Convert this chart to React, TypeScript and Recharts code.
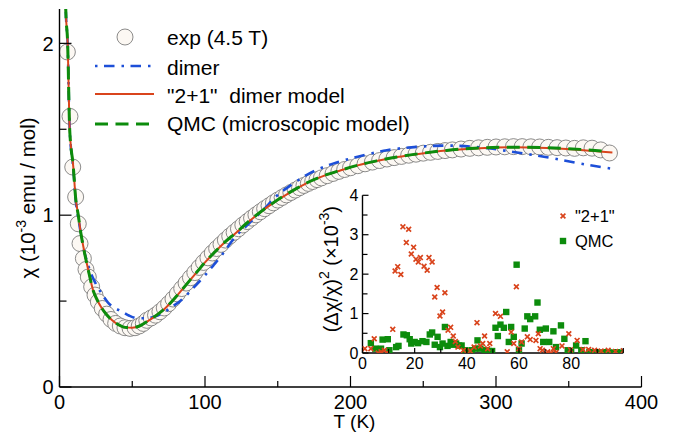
import { ComposedChart, ScatterChart, Scatter, Line, XAxis, YAxis, Legend } from 'recharts';

const FONT = '"Liberation Sans", Arial, Helvetica, sans-serif';
const BLUE = '#1d4fd8';
const RED = '#d9441c';
const GREEN = '#0c8c0c';
const CIRCLE_FILL = '#fcf8f3';

// main panel: chi (10^-3 emu/mol) vs T (K)
const expT = [5.4, 7.2, 9.1, 11.1, 12.9, 14.1, 16.4, 18.2, 19.8, 22.1, 24.4, 26.7, 29.4, 32.4, 35.4, 38.6, 41.8, 45, 48.5, 51.9, 54.8, 57.6,
  60, 63, 66, 69, 72, 75, 78, 81, 84, 87, 90, 93, 96, 99, 102, 105, 108, 111, 114, 117, 120, 123, 126, 129, 132, 135, 138, 141, 144, 147,
  150, 153, 156, 159, 162, 165, 168, 171, 174, 177, 180, 184, 188, 192, 196, 200, 205, 210, 215, 220, 225, 230, 235, 240, 245, 250, 255,
  260, 265, 270, 276, 282, 288, 294, 300, 306, 312, 318, 324, 330, 336, 342, 348, 354, 360, 366, 372, 378];
const expChi = [1.95, 1.575, 1.28, 1.106, 0.95, 0.835, 0.748, 0.684, 0.64, 0.583, 0.535, 0.496, 0.457, 0.424, 0.393, 0.37, 0.355, 0.345, 0.341, 0.345, 0.355, 0.37,
  0.388, 0.402, 0.418, 0.438, 0.46, 0.485, 0.512, 0.542, 0.573, 0.605, 0.636, 0.666, 0.696, 0.725, 0.752, 0.78, 0.806, 0.83, 0.855, 0.878, 0.9, 0.921, 0.943, 0.963, 0.983, 1.002, 1.02, 1.038, 1.055, 1.072,
  1.088, 1.103, 1.118, 1.132, 1.146, 1.16, 1.173, 1.185, 1.196, 1.207, 1.217, 1.23, 1.243, 1.255, 1.266, 1.276, 1.288, 1.299, 1.309, 1.318, 1.327, 1.335, 1.342, 1.349, 1.355, 1.361, 1.366,
  1.371, 1.376, 1.38, 1.385, 1.389, 1.392, 1.395, 1.397, 1.398, 1.399, 1.399, 1.398, 1.397, 1.395, 1.393, 1.391, 1.389, 1.392, 1.39, 1.38, 1.362];

const dimerT = [3.5, 4.3, 5.6, 7, 9.5, 11.1, 13, 16, 20, 24.4, 28.5, 33.5, 38, 42.7, 48, 54, 60, 65.6, 71, 77, 83, 88.5, 94, 100, 106, 111.5,
  119.5, 130, 140, 149, 160, 170, 188, 205, 225, 246, 266, 289, 312, 335, 358, 380];
const dimerChi = [2.7, 2.2, 2.0, 1.5, 1.27, 1.09, 0.98, 0.83, 0.7, 0.61, 0.55, 0.49, 0.46, 0.44, 0.415, 0.4, 0.4, 0.41, 0.43, 0.465, 0.5, 0.545, 0.595, 0.65, 0.71, 0.767,
  0.86, 0.95, 1.03, 1.11, 1.18, 1.235, 1.3, 1.34, 1.378, 1.398, 1.405, 1.395, 1.368, 1.337, 1.3, 1.27];

const twoPlusOneT = [3.5, 4.3, 5.6, 7, 9.5, 11.1, 12.9, 14.5, 16.4, 19.8, 23.2, 26, 29, 32, 36, 40, 45, 50, 55, 61, 67, 72.5, 78, 84, 90, 95, 100,
  107, 114, 121, 129, 137, 145, 154, 163, 172, 182, 193, 205, 218, 232, 248, 266, 289, 312, 335, 358, 380];
const twoPlusOneChi = [2.7, 2.2, 2.0, 1.5, 1.28, 1.1, 1.0, 0.905, 0.816, 0.68, 0.56, 0.505, 0.46, 0.425, 0.39, 0.365, 0.347, 0.345, 0.355, 0.385, 0.42, 0.457, 0.505, 0.564, 0.625, 0.675, 0.725,
  0.787, 0.845, 0.895, 0.955, 1.01, 1.06, 1.11, 1.155, 1.195, 1.23, 1.26, 1.29, 1.315, 1.338, 1.358, 1.376, 1.39, 1.395, 1.391, 1.38, 1.365];

const qmcT = [3.5, 4.3, 5.6, 7, 9.5, 11.1, 12.9, 14.5, 16.4, 19.8, 23.2, 26, 29, 32, 36, 40, 45, 50, 55, 61, 67, 72.5, 78, 84, 90, 95, 100,
  107, 114, 121, 129, 137, 145, 154, 163, 172, 182, 193, 205, 218, 232, 248, 266, 289, 312, 335, 358, 376];
const qmcChi = [2.7, 2.2, 2.0, 1.5, 1.28, 1.1, 1.0, 0.905, 0.815, 0.68, 0.56, 0.505, 0.46, 0.425, 0.39, 0.365, 0.347, 0.345, 0.355, 0.385, 0.42, 0.457, 0.505, 0.564, 0.625, 0.675, 0.726,
  0.788, 0.846, 0.896, 0.956, 1.011, 1.061, 1.111, 1.156, 1.196, 1.231, 1.261, 1.291, 1.316, 1.339, 1.359, 1.377, 1.391, 1.396, 1.393, 1.383, 1.372];

const mainXTicks = [0, 50, 100, 150, 200, 250, 300, 350, 400];
const mainYTicks = [0, 0.5, 1, 1.5, 2];

// inset: (dchi/chi)^2 (x10^-3) vs point index
const redN = [0.9, 3.2, 4.5, 6, 7.1, 8.4, 9.3, 11.6, 12.5, 13.5, 14.7, 15.5, 16.8, 17.7, 18.7, 19.6, 20.5, 21.4, 22.2, 23.6, 24.8, 25.5, 26.7,
  27.7, 28.6, 29.7, 30.7, 31.6, 32.8, 33.8, 34.8, 35.6, 36.6, 38.7, 41.3, 42.8, 43.9, 45.2, 46.1, 46.8, 48, 48.8, 51, 52.9, 55.5, 57, 58, 59,
  60, 61, 63.2, 64.3, 66.5, 67.4, 68.1, 69, 71, 72.3, 73.2, 74.2, 76.5, 79.1, 79.7, 82.3, 84.5, 86.7, 89, 91.5, 94.2, 97, 100];
const redV = [0.11, 0.11, 0.36, 0, 0.03, 0.07, 0, 0.6, 2.08, 2.19, 1.99, 3.2, 2.8, 3.14, 2.51, 2.68, 2.38, 2.31, 2.42, 2.2, 2.1, 2.42, 2.31,
  1.42, 1.66, 0.94, 1.04, 1.53, 0.58, 0.65, 0.43, 0.29, 0.15, 0.07, 0.05, 0.15, 0.77, 0.18, 0.24, 0.43, 0.11, 0.24, 1.0, 0.93, 0.03, 0.53, 0.24, 1.68,
  0.11, 0.28, 0.41, 0.34, 0.32, 0.49, 0.11, 0.07, 0.03, 0, 0.11, 0.01, 0.18, 0.49, 0.08, 0.32, 0.09, 0.09, 0.07, 0.05, 0.07, 0.04, 0.06];

const greenN = [3.2, 4.9, 7.1, 7.7, 9.7, 10.3, 12.9, 13.8, 15.7, 17, 18.1, 18.7, 20, 21.3, 23, 24.5, 25.8, 26.7, 27.7, 28.8, 29.7, 30.7, 31.6,
  32.6, 33.8, 34.8, 35.9, 37, 38, 39.4, 40.6, 41.9, 43.2, 44.1, 45.2, 46.8, 48.4, 49.7, 51, 51.9, 52.9, 54.2, 55.1, 56.1, 57, 58, 59.1, 60, 61,
  62.2, 63.2, 64.3, 66.2, 67.1, 68, 69.3, 70.3, 71.6, 73.2, 74.2, 76.1, 77.4, 78.7, 80, 81.9, 83.9, 85.5, 87, 88.5, 90, 91.5, 93, 94.5, 96, 97.5, 99, 100.5];
const greenV = [0.25, 0.11, 0.11, 0.34, 0.35, 0.07, 0.15, 0.18, 0.47, 0.45, 0.35, 0.24, 0.28, 0.25, 0.3, 0.28, 0.47, 0.52, 0.21, 0.41, 0.15, 0.24, 0.66,
  0.18, 0.28, 0.21, 0.24, 0.19, 0.19, 0.07, 0.03, 0.07, 0.11, 0.32, 0.11, 0.07, 0.05, 0.05, 0.64, 0.43, 0.72, 0.64, 1.04, 0.28, 0.66, 0.41, 2.24, 0.07, 0.24,
  0.62, 0.93, 0.86, 0.93, 1.28, 0.59, 0.28, 0.62, 0.28, 0.55, 0.15, 0.7, 0.36, 0.07, 0.03, 0.19, 0.07, 0.3, 0.02, 0.01, 0.02, 0.01, 0.02, 0.01, 0.01, 0.02, 0.01, 0.01];

const insetXTicks = [0, 10, 20, 30, 40, 50, 60, 70, 80, 90, 100];
const insetYTicks = [0, 0.5, 1, 1.5, 2, 2.5, 3, 3.5, 4];

const toXY = (xs: number[], ys: number[]) => xs.map((x, i) => ({ x, y: ys[i] }));

const expData = toXY(expT, expChi);
const dimerData = toXY(dimerT, dimerChi);
const twoPlusOneData = toXY(twoPlusOneT, twoPlusOneChi);
const qmcData = toXY(qmcT, qmcChi);
const redData = toXY(redN, redV);
const greenData = toXY(greenN, greenV);

type TickOpts = {
  side: 'bottom' | 'top' | 'left' | 'right';
  isMajor: (v: number) => boolean;
  long: number;
  short: number;
  showLabel?: (v: number) => boolean;
  gap?: number;
  fontSize?: number;
};

// inward ticks, drawn by hand so they can point into the plot
function makeTick(o: TickOpts) {
  return (p: any) => {
    const { x, y } = p;
    const v = p.payload.value;
    const len = o.isMajor(v) ? o.long : o.short;
    let x2 = x;
    let y2 = y;
    if (o.side === 'bottom') y2 = y - len;
    else if (o.side === 'top') y2 = y + len;
    else if (o.side === 'left') x2 = x + len;
    else x2 = x - len;
    const label = o.showLabel ? o.showLabel(v) : false;
    return (
      <g>
        <line x1={x} y1={y} x2={x2} y2={y2} stroke="#000" strokeWidth={1.2} />
        {label && o.side === 'bottom' && (
          <text x={x} y={y + (o.gap || 0)} textAnchor="middle" fontSize={o.fontSize} fontFamily={FONT} fill="#000">
            {v}
          </text>
        )}
        {label && o.side === 'left' && (
          <text x={x - (o.gap || 0)} y={y} dy="0.36em" textAnchor="end" fontSize={o.fontSize} fontFamily={FONT} fill="#000">
            {v}
          </text>
        )}
      </g>
    );
  };
}

const isMult = (step: number) => (v: number) => Math.abs(v / step - Math.round(v / step)) < 1e-6;

const mainBottomTick = makeTick({ side: 'bottom', isMajor: isMult(100), long: 11, short: 6, showLabel: isMult(100), gap: 22, fontSize: 20 });
const mainTopTick = makeTick({ side: 'top', isMajor: isMult(100), long: 11, short: 6 });
const mainLeftTick = makeTick({ side: 'left', isMajor: isMult(1), long: 12, short: 7, showLabel: isMult(1), gap: 6, fontSize: 20 });
const mainRightTick = makeTick({ side: 'right', isMajor: isMult(1), long: 12, short: 7 });

const insetBottomTick = makeTick({ side: 'bottom', isMajor: isMult(20), long: 5, short: 4, showLabel: (v) => isMult(20)(v) && v < 100, gap: 16, fontSize: 16 });
const insetTopTick = makeTick({ side: 'top', isMajor: isMult(20), long: 5, short: 4 });
const insetLeftTick = makeTick({ side: 'left', isMajor: isMult(1), long: 6, short: 5, showLabel: isMult(1), gap: 4, fontSize: 16 });
const insetRightTick = makeTick({ side: 'right', isMajor: isMult(1), long: 6, short: 5 });

const MainYLabel = (p: any) => {
  const vb = p.viewBox;
  const cx = vb.x + 35;
  const cy = vb.y + vb.height / 2;
  return (
    <text transform={`translate(${cx},${cy}) rotate(-90)`} textAnchor="middle" fontSize={20.5} fontFamily={FONT} fill="#000">
      χ (10<tspan dy={-9} fontSize={14}>-3</tspan>
      <tspan dy={9}> emu / mol)</tspan>
    </text>
  );
};

const MainXLabel = (p: any) => {
  const vb = p.viewBox;
  return (
    <text x={vb.x + vb.width / 2 + 4} y={vb.y + 41} textAnchor="middle" fontSize={19} fontFamily={FONT} fill="#000">
      T (K)
    </text>
  );
};

const InsetYLabel = (p: any) => {
  const vb = p.viewBox;
  const cx = vb.x + 38;
  const cy = vb.y + vb.height / 2 - 5;
  return (
    <text transform={`translate(${cx},${cy}) rotate(-90)`} textAnchor="middle" fontSize={20} fontFamily={FONT} fill="#000">
      (Δχ/χ)<tspan dy={-9} fontSize={14}>2</tspan>
      <tspan dy={9}> (×10</tspan>
      <tspan dy={-9} fontSize={14}>-3</tspan>
      <tspan dy={9}>)</tspan>
    </text>
  );
};

const ExpCircle = (p: any) => (
  <circle cx={p.cx} cy={p.cy} r={8} fill={CIRCLE_FILL} stroke="#6e6e6e" strokeWidth={0.8} />
);
const RedCross = (p: any) => {
  const { cx, cy } = p;
  const s = 2.4;
  return (
    <path d={`M${cx - s},${cy - s}L${cx + s},${cy + s}M${cx - s},${cy + s}L${cx + s},${cy - s}`} stroke={RED} strokeWidth={1.7} fill="none" />
  );
};
const GreenSquare = (p: any) => <rect x={p.cx - 3.2} y={p.cy - 3.2} width={6.4} height={6.4} fill={GREEN} />;

const MainLegend = () => (
  <svg width={673} height={140} style={{ display: 'block' }} fontFamily={FONT}>
    <circle cx={125} cy={37} r={8} fill={CIRCLE_FILL} stroke="#6e6e6e" strokeWidth={0.8} />
    <text x={167} y={37} dy="0.36em" fontSize={21}>exp (4.5 T)</text>
    <line x1={95} x2={152} y1={66} y2={66} stroke={BLUE} strokeWidth={2.6} strokeDasharray="2.5 6.5 10.5 7" />
    <text x={167} y={67} dy="0.36em" fontSize={21}>dimer</text>
    <line x1={95} x2={154} y1={94} y2={94} stroke={RED} strokeWidth={2} />
    <text x={167} y={95} dy="0.36em" fontSize={21} style={{ whiteSpace: 'pre' }}>{'"2+1"  dimer model'}</text>
    <line x1={95} x2={154} y1={124} y2={124} stroke={GREEN} strokeWidth={3} strokeDasharray="13 7.5" />
    <text x={167} y={123} dy="0.36em" fontSize={21}>QMC (microscopic model)</text>
  </svg>
);

const InsetLegend = () => (
  <svg width={340} height={80} style={{ display: 'block' }} fontFamily={FONT}>
    <RedCross cx={263} cy={36} />
    <text x={275} y={36} dy="0.36em" fontSize={16.5}>"2+1"</text>
    <GreenSquare cx={263} cy={61} />
    <text x={275} y={61} dy="0.36em" fontSize={16.5}>QMC</text>
  </svg>
);

const MAIN_MARGIN = { top: 9, right: 31.5, bottom: 0, left: 0 };
const layer: React.CSSProperties = { position: 'absolute', left: 0, top: 0 };

export default function App() {
  return (
    <div style={{ position: 'absolute', left: 0, top: 0, width: 673, height: 436, background: '#fff' }}>
      {/* bottom layer: the measured points, so the model curves are drawn over them */}
      <div style={layer}>
        <ComposedChart width={673} height={436} margin={MAIN_MARGIN}>
          <XAxis xAxisId="b" type="number" dataKey="x" domain={[0, 400]} height={49} allowDataOverflow tick={false} axisLine={false} tickLine={false} />
          <YAxis yAxisId="l" type="number" dataKey="y" domain={[0, 2.2]} width={59.5} allowDataOverflow tick={false} axisLine={false} tickLine={false} />
          <Scatter xAxisId="b" yAxisId="l" data={expData} shape={ExpCircle} isAnimationActive={false} />
        </ComposedChart>
      </div>

      <div style={layer}>
        <ComposedChart width={673} height={436} margin={MAIN_MARGIN}>
          <XAxis xAxisId="b" type="number" dataKey="x" domain={[0, 400]} ticks={mainXTicks} interval={0} height={49}
            allowDataOverflow tickSize={0} tickMargin={0} tickLine={false} tick={mainBottomTick}
            axisLine={{ stroke: '#000', strokeWidth: 1.4 }} label={MainXLabel} />
          <XAxis xAxisId="t" orientation="top" type="number" dataKey="x" domain={[0, 400]} ticks={mainXTicks} interval={0} height={0}
            allowDataOverflow tickSize={0} tickMargin={0} tickLine={false} tick={mainTopTick}
            axisLine={{ stroke: '#000', strokeWidth: 1.4 }} />
          <YAxis yAxisId="l" type="number" dataKey="y" domain={[0, 2.2]} ticks={mainYTicks} interval={0} width={59.5}
            allowDataOverflow tickSize={0} tickMargin={0} tickLine={false} tick={mainLeftTick}
            axisLine={{ stroke: '#000', strokeWidth: 1.4 }} label={MainYLabel} />
          <YAxis yAxisId="r" orientation="right" type="number" dataKey="y" domain={[0, 2.2]} ticks={mainYTicks} interval={0} width={0}
            allowDataOverflow tickSize={0} tickMargin={0} tickLine={false} tick={mainRightTick}
            axisLine={{ stroke: '#000', strokeWidth: 1.4 }} />
          <Line xAxisId="b" yAxisId="l" data={dimerData} dataKey="y" type="monotone" stroke={BLUE} strokeWidth={2.6}
            strokeDasharray="2.5 6.5 10.5 7" dot={false} activeDot={false} isAnimationActive={false} />
          <Line xAxisId="b" yAxisId="l" data={twoPlusOneData} dataKey="y" type="monotone" stroke={RED} strokeWidth={2}
            dot={false} activeDot={false} isAnimationActive={false} />
          <Line xAxisId="b" yAxisId="l" data={qmcData} dataKey="y" type="monotone" stroke={GREEN} strokeWidth={3}
            strokeDasharray="13 7.5" dot={false} activeDot={false} isAnimationActive={false} />
          <Legend verticalAlign="middle" align="center" layout="horizontal" content={MainLegend}
            wrapperStyle={{ left: 0, top: 0, width: 673, height: 140 }} />
        </ComposedChart>
      </div>

      <div style={{ position: 'absolute', left: 300, top: 180 }}>
        <ScatterChart width={340} height={210} margin={{ top: 15.3, right: 16.7, bottom: 0, left: 0 }}>
          <XAxis xAxisId="b" type="number" dataKey="x" domain={[0, 100]} ticks={insetXTicks} interval={0} height={37}
            allowDataOverflow tickSize={0} tickMargin={0} tickLine={false} tick={insetBottomTick}
            axisLine={{ stroke: '#000', strokeWidth: 1.4 }} />
          <XAxis xAxisId="t" orientation="top" type="number" dataKey="x" domain={[0, 100]} ticks={insetXTicks} interval={0} height={0}
            allowDataOverflow tickSize={0} tickMargin={0} tickLine={false} tick={insetTopTick}
            axisLine={{ stroke: '#000', strokeWidth: 1.4 }} />
          <YAxis yAxisId="l" type="number" dataKey="y" domain={[0, 4]} ticks={insetYTicks} interval={0} width={62.5}
            allowDataOverflow tickSize={0} tickMargin={0} tickLine={false} tick={insetLeftTick}
            axisLine={{ stroke: '#000', strokeWidth: 1.4 }} label={InsetYLabel} />
          <YAxis yAxisId="r" orientation="right" type="number" dataKey="y" domain={[0, 4]} ticks={insetYTicks} interval={0} width={0}
            allowDataOverflow tickSize={0} tickMargin={0} tickLine={false} tick={insetRightTick}
            axisLine={{ stroke: '#000', strokeWidth: 1.4 }} />
          <Scatter xAxisId="b" yAxisId="l" data={greenData} shape={GreenSquare} isAnimationActive={false} />
          <Scatter xAxisId="b" yAxisId="l" data={redData} shape={RedCross} isAnimationActive={false} />
          <Legend verticalAlign="middle" align="center" layout="horizontal" content={InsetLegend}
            wrapperStyle={{ left: 0, top: 0, width: 340, height: 80 }} />
        </ScatterChart>
      </div>
    </div>
  );
}
